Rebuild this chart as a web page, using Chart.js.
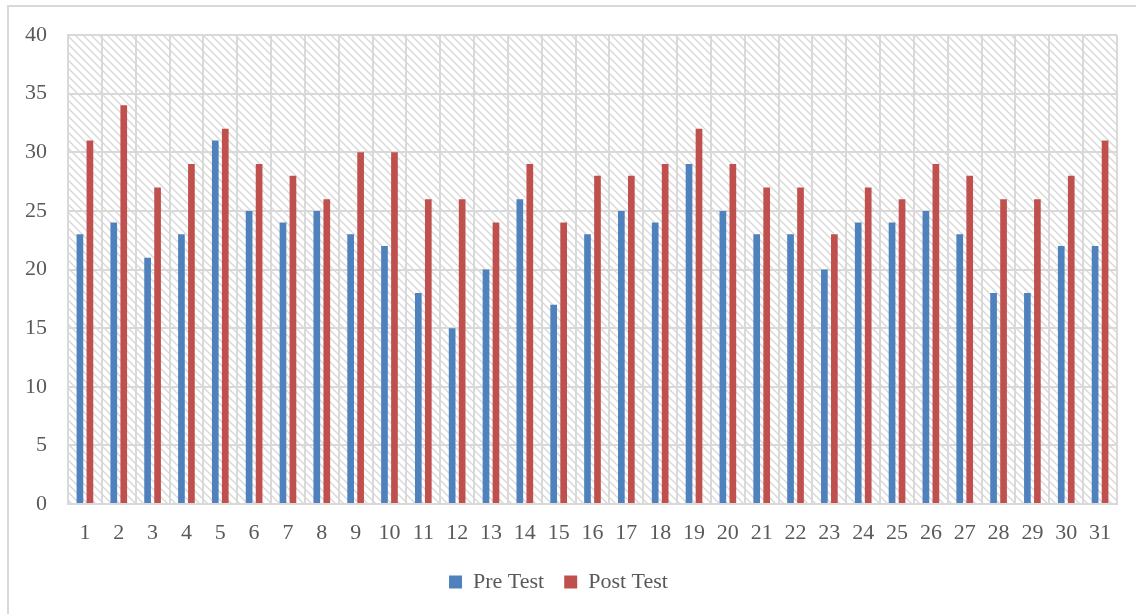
<!DOCTYPE html>
<html>
<head>
<meta charset="utf-8">
<script src="https://cdn.jsdelivr.net/npm/chart.js@4/dist/chart.umd.min.js"></script>
<style>
  html, body { margin: 0; padding: 0; background: #ffffff; overflow: hidden; }
  #frame { position: absolute; left: 7px; top: 5px; width: 1150px; height: 640px; border: 2px solid #d9d9d9; box-sizing: border-box; }
  #wrap { position: absolute; left: 0; top: 0; width: 1136px; height: 614px; }
</style>
</head>
<body>
<div id="frame"></div>
<div id="wrap"><canvas id="c" width="1136" height="614"></canvas></div>
<script>
const categories = ['1','2','3','4','5','6','7','8','9','10','11','12','13','14','15','16','17','18','19','20','21','22','23','24','25','26','27','28','29','30','31'];
const preTest  = [23,24,21,23,31,25,24,25,23,22,18,15,20,26,17,23,25,24,29,25,23,23,20,24,24,25,23,18,18,22,22];
const postTest = [31,34,27,29,32,29,28,26,30,30,26,26,24,29,24,28,28,29,32,29,27,27,23,27,26,29,28,26,26,28,31];
const seriesNames = ['Pre Test', 'Post Test'];
const yTicks = { min: 0, max: 40, step: 5 };

function makePattern() {
  const t = document.createElement('canvas');
  t.width = 8; t.height = 8;
  const g = t.getContext('2d');
  g.fillStyle = '#ffffff';
  g.fillRect(0, 0, 8, 8);
  g.strokeStyle = '#d9d9d9';
  g.lineWidth = 1.5;
  g.beginPath();
  g.moveTo(-1, -1); g.lineTo(9, 9);
  g.moveTo(-5, 3); g.lineTo(5, 13);
  g.moveTo(3, -5); g.lineTo(13, 5);
  g.stroke();
  return t;
}

const hatchPlugin = {
  id: 'hatch',
  beforeDraw(chart) {
    const { ctx, chartArea: a } = chart;
    ctx.save();
    ctx.fillStyle = ctx.createPattern(makePattern(), 'repeat');
    ctx.fillRect(a.left, a.top, a.right - a.left, a.bottom - a.top);
    ctx.restore();
  }
};

const font = { family: "'Liberation Serif', 'DejaVu Serif', serif", size: 22 };
const textColor = '#595959';
const gridColor = '#d9d9d9';

new Chart(document.getElementById('c'), {
  type: 'bar',
  data: {
    labels: categories,
    datasets: [
      { label: seriesNames[0], data: preTest, backgroundColor: '#4f81bd' },
      { label: seriesNames[1], data: postTest, backgroundColor: '#c0504d' }
    ]
  },
  options: {
    responsive: false,
    animation: false,
    devicePixelRatio: 1,
    layout: { padding: { left: 0, right: 19, top: 35, bottom: 11 } },
    datasets: { bar: { categoryPercentage: 0.59, barPercentage: 0.67 } },
    scales: {
      x: {
        grid: { color: gridColor, lineWidth: 2, drawTicks: false, offset: true },
        border: { color: gridColor, width: 2 },
        ticks: { font: font, color: textColor, padding: 16, maxRotation: 0, autoSkip: false },
        afterFit(s) { s.height = 47; }
      },
      y: {
        min: yTicks.min, max: yTicks.max,
        grid: { color: gridColor, lineWidth: 2, drawTicks: false },
        border: { color: gridColor, width: 2 },
        ticks: { stepSize: yTicks.step, font: font, color: textColor, padding: 21 },
        afterFit(s) { s.width = 68; }
      }
    },
    plugins: {
      legend: {
        position: 'bottom',
        labels: { font: font, color: textColor, boxWidth: 13, boxHeight: 13, padding: 20 }
      },
      tooltip: { enabled: false }
    }
  },
  plugins: [hatchPlugin]
});
</script>
</body>
</html>
